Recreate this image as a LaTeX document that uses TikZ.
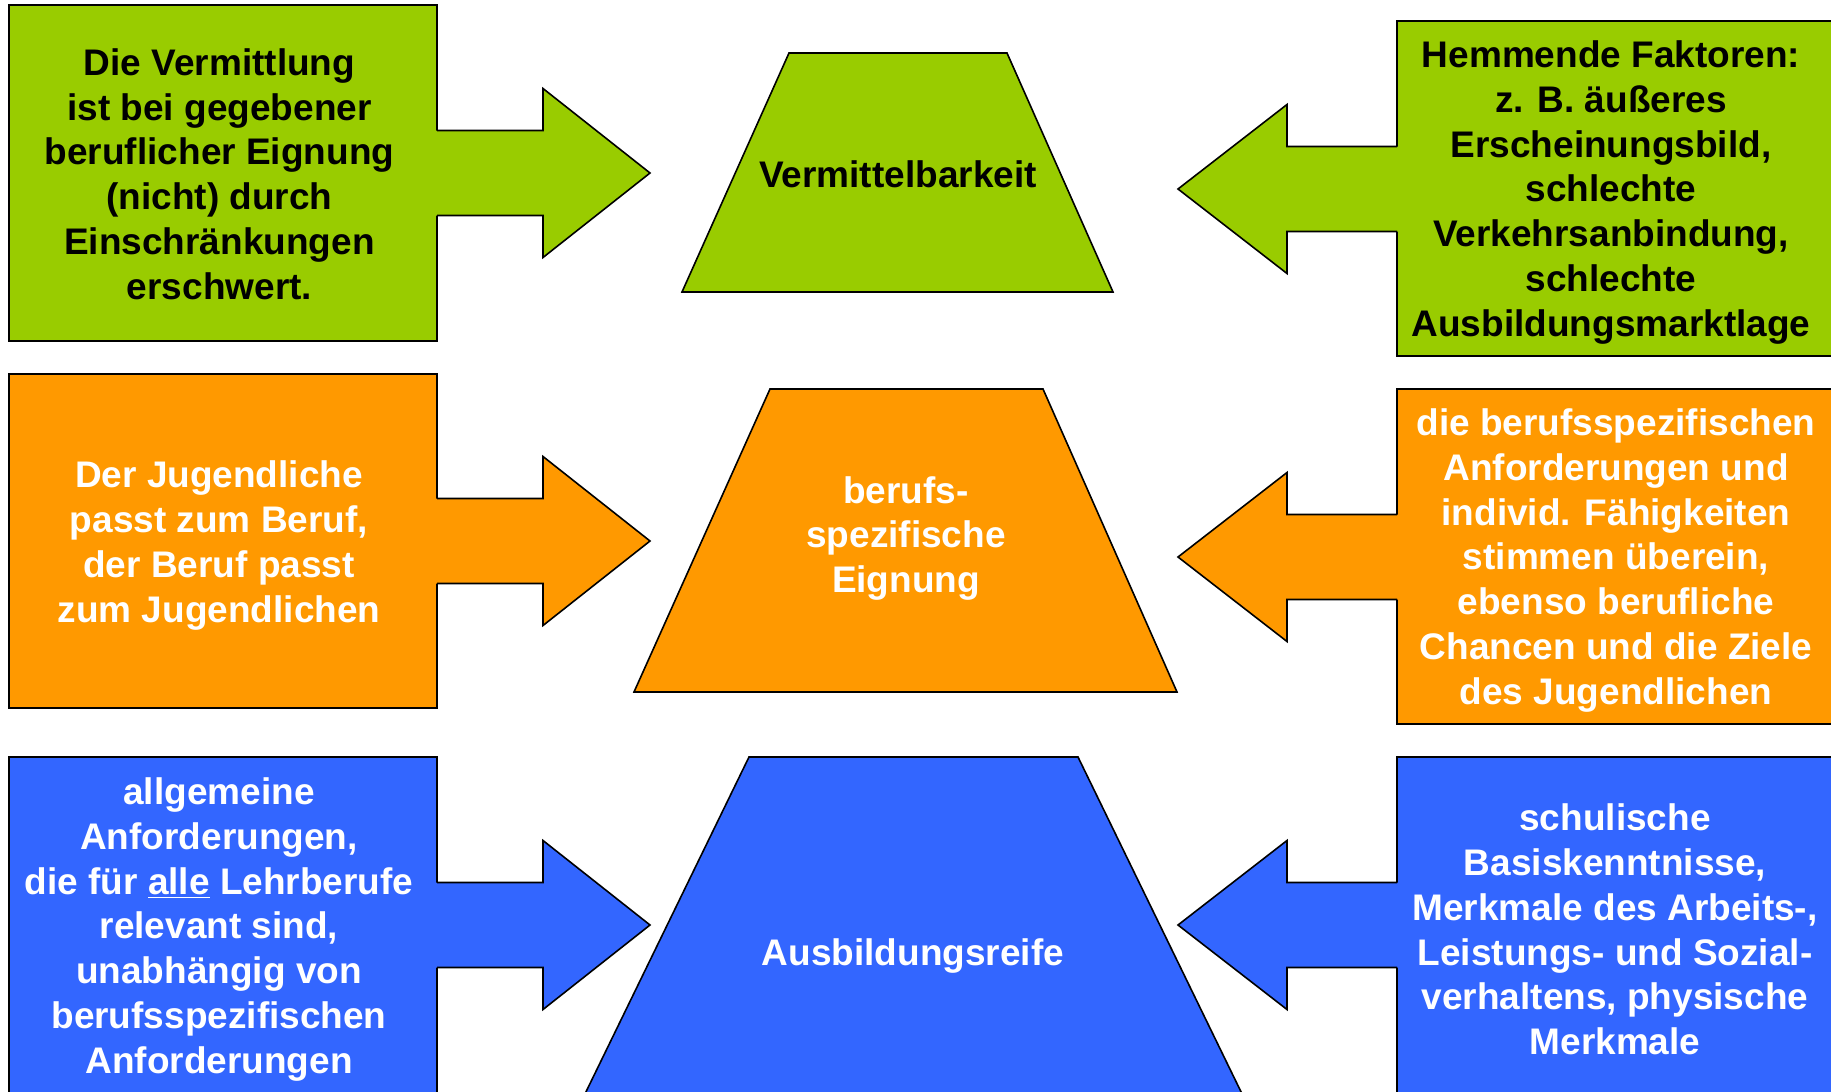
\documentclass[tikz,border=0pt]{standalone}
\usepackage{fontspec}
\setmainfont{Liberation Sans}
\usepackage{xcolor}
\usetikzlibrary{positioning}

\definecolor{lgreen}{HTML}{99CC00}
\definecolor{lorange}{HTML}{FF9900}
\definecolor{lblue}{HTML}{3366FF}

\begin{document}
\begin{tikzpicture}[
    x=0.5pt, y=-0.5pt,
    box/.style={draw=black, line width=0.8pt},
    outl/.style={draw=black, line width=0.8pt, line join=miter},
    txt/.style={align=center, inner sep=0pt, font=\fontsize{18.5}{22.4}\selectfont\bfseries},
    wtxt/.style={txt, text=white}
  ]
    \useasboundingbox (0,0) rectangle (1831,1092);
    \clip (0,0) rectangle (1831,1092);

    % boxes
    \path[box, fill=lgreen]  (9,5)     rectangle (437,341);
    \path[box, fill=lgreen]  (1397,21) rectangle (1840,356);
    \path[box, fill=lorange] (9,374)   rectangle (437,708);
    \path[box, fill=lorange] (1397,389) rectangle (1840,724);
    \path[box, fill=lblue]   (9,757)   rectangle (437,1110);
    \path[box, fill=lblue]   (1397,757) rectangle (1840,1110);

    % block arrows
    \foreach \col/\yl/\yr in {lgreen/173/189, lorange/541/557, lblue/925/925} {
      \fill[\col] (434,\yl-42.5) -- (543,\yl-42.5) -- (543,\yl-84.5) -- (650,\yl)
        -- (543,\yl+84.5) -- (543,\yl+42.5) -- (434,\yl+42.5) -- cycle;
      \draw[outl] (437,\yl-42.5) -- (543,\yl-42.5) -- (543,\yl-84.5) -- (650,\yl)
        -- (543,\yl+84.5) -- (543,\yl+42.5) -- (437,\yl+42.5);
      \fill[\col] (1400,\yr-42.5) -- (1287,\yr-42.5) -- (1287,\yr-84.5) -- (1178,\yr)
        -- (1287,\yr+84.5) -- (1287,\yr+42.5) -- (1400,\yr+42.5) -- cycle;
      \draw[outl] (1397,\yr-42.5) -- (1287,\yr-42.5) -- (1287,\yr-84.5) -- (1178,\yr)
        -- (1287,\yr+84.5) -- (1287,\yr+42.5) -- (1397,\yr+42.5);
    }

    % trapezoids
    \draw[outl, fill=lgreen]  (789,53) -- (1007,53) -- (1113,292) -- (682,292) -- cycle;
    \draw[outl, fill=lorange] (770,389) -- (1043,389) -- (1177,692) -- (634,692) -- cycle;
    \draw[outl, fill=lblue]   (749,757) -- (1078,757) -- (1245,1100) -- (582,1100) -- cycle;

    % texts
    \node[txt] (vmbox) at (219.5,174) {Die Vermittlung\\ist bei gegebener\\beruflicher Eignung\\(nicht) durch\\Einschränkungen\\erschwert.};
    \node[txt] (vm) at (898,174) {Vermittelbarkeit};
    \node[txt] (hemm) at (1611,192.5) {Hemmende Faktoren:\\z. B. äußeres\\Erscheinungsbild,\\schlechte\\Verkehrsanbindung,\\schlechte\\Ausbildungsmarktlage};

    \node[wtxt] (passt) at (219,545.5) {Der Jugendliche\\passt zum Beruf,\\der Beruf passt\\zum Jugendlichen};
    \node[wtxt] (eig) at (906,538.5) {berufs-\\spezifische\\Eignung};
    \node[wtxt] (anf) at (1616,560.5) {die berufsspezifischen\\Anforderungen und\\individ. Fähigkeiten\\stimmen überein,\\ebenso berufliche\\Chancen und die Ziele\\des Jugendlichen};

    \node[wtxt] (allg) at (219,929.5) {allgemeine\\Anforderungen,\\die für \underline{alle} Lehrberufe\\relevant sind,\\unabhängig von\\berufsspezifischen\\Anforderungen};
    \node[wtxt] (reife) at (913,956.5) {Ausbildungsreife};
    \node[wtxt] (schul) at (1615,929.5) {schulische\\Basiskenntnisse,\\Merkmale des Arbeits-,\\Leistungs- und Sozial-\\verhaltens, physische\\Merkmale};
\end{tikzpicture}
\end{document}
